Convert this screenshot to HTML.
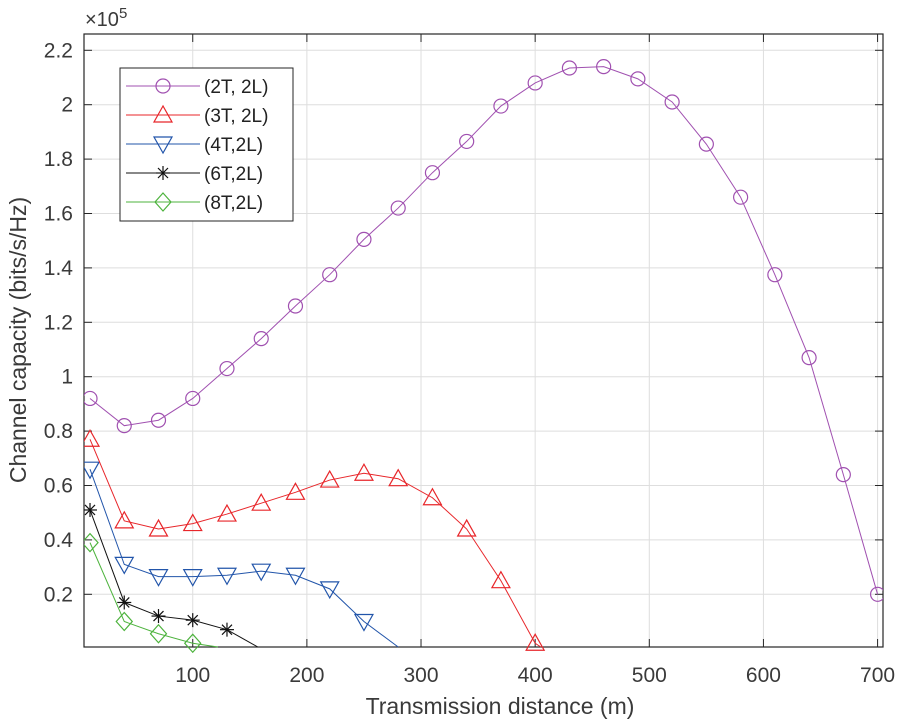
<!DOCTYPE html>
<html><head><meta charset="utf-8"><style>
html,body{margin:0;padding:0;background:#fff}
svg{display:block;font-family:"Liberation Sans",sans-serif}
</style></head><body>
<svg id="s" width="900" height="720" viewBox="0 0 900 720" xmlns="http://www.w3.org/2000/svg"></svg>
<script>
const s=document.getElementById('s');
const X0=84,X1=883,Y0=34,Y1=647;
const xm=v=>78.6+v*1.1414;
const ym=v=>648.7-v*272;
let h='';
// grid
for(let x=100;x<=700;x+=100){h+=`<line x1="${xm(x)}" y1="${Y0}" x2="${xm(x)}" y2="${Y1}" stroke="#dedede" stroke-width="1"/>`;}
for(let i=1;i<=11;i++){let y=ym(i*0.2);h+=`<line x1="${X0}" y1="${y}" x2="${X1}" y2="${y}" stroke="#dedede" stroke-width="1"/>`;}
// axes
h+=`<rect x="${X0}" y="${Y0}" width="${X1-X0}" height="${Y1-Y0}" fill="none" stroke="#262626" stroke-width="1.2"/>`;
for(let x=100;x<=700;x+=100){h+=`<line x1="${xm(x)}" y1="${Y1}" x2="${xm(x)}" y2="${Y1-8}" stroke="#262626"/><line x1="${xm(x)}" y1="${Y0}" x2="${xm(x)}" y2="${Y0+8}" stroke="#262626"/>`;
h+=`<text x="${xm(x)}" y="682" font-size="21" fill="#3a3a3a" text-anchor="middle">${x}</text>`;}
const yl=['0.2','0.4','0.6','0.8','1','1.2','1.4','1.6','1.8','2','2.2'];
for(let i=1;i<=11;i++){let y=ym(i*0.2);h+=`<line x1="${X0}" y1="${y}" x2="${X0+8}" y2="${y}" stroke="#262626"/><line x1="${X1}" y1="${y}" x2="${X1-8}" y2="${y}" stroke="#262626"/>`;
h+=`<text x="73" y="${y+7}" font-size="21" fill="#3a3a3a" text-anchor="end">${yl[i-1]}</text>`;}
h+=`<text x="85" y="26" font-size="20" fill="#3a3a3a">×10<tspan font-size="15" dy="-8">5</tspan></text>`;
h+=`<text x="500" y="714" font-size="23" fill="#3a3a3a" text-anchor="middle">Transmission  distance (m)</text>`;
h+=`<text transform="translate(26,340) rotate(-90)" font-size="23" fill="#3a3a3a" text-anchor="middle">Channel capacity (bits/s/Hz)</text>`;
// data
const xs=[];for(let x=10;x<=700;x+=30)xs.push(x);
const d2=[0.92,0.82,0.84,0.92,1.03,1.14,1.26,1.375,1.505,1.62,1.75,1.865,1.995,2.08,2.135,2.14,2.095,2.01,1.855,1.66,1.375,1.07,0.64,0.2];
const d3=[0.77,0.47,0.44,0.46,0.495,0.535,0.575,0.62,0.645,0.625,0.555,0.44,0.25,0.02];
const d4=[0.66,0.31,0.265,0.265,0.27,0.285,0.27,0.22,0.1];
const d6=[0.51,0.17,0.12,0.105,0.07];
const d8=[0.39,0.1,0.055,0.02];
function mk(t,cx,cy,c){
 if(t=='o')return `<circle cx="${cx}" cy="${cy}" r="7" fill="none" stroke="${c}" stroke-width="1.2"/>`;
 if(t=='^')return `<polygon points="${cx},${cy-9} ${cx-9},${cy+7} ${cx+9},${cy+7}" fill="none" stroke="${c}" stroke-width="1.2"/>`;
 if(t=='v')return `<polygon points="${cx},${cy+9} ${cx-9},${cy-7} ${cx+9},${cy-7}" fill="none" stroke="${c}" stroke-width="1.2"/>`;
 if(t=='*')return `<g stroke="${c}" stroke-width="1.2"><line x1="${cx-7}" y1="${cy}" x2="${cx+7}" y2="${cy}"/><line x1="${cx}" y1="${cy-7}" x2="${cx}" y2="${cy+7}"/><line x1="${cx-5}" y1="${cy-5}" x2="${cx+5}" y2="${cy+5}"/><line x1="${cx-5}" y1="${cy+5}" x2="${cx+5}" y2="${cy-5}"/></g>`;
 if(t=='d')return `<polygon points="${cx},${cy-9} ${cx+8},${cy} ${cx},${cy+9} ${cx-8},${cy}" fill="none" stroke="${c}" stroke-width="1.2"/>`;
}
function series(d,c,t,endx){
 let pts=d.map((v,i)=>[xm(xs[i]),ym(v)]);
 if(endx)pts.push([xm(endx),Y1]);
 let p=`<polyline points="${pts.map(q=>q.join(',')).join(' ')}" fill="none" stroke="${c}" stroke-width="1"/>`;
 d.forEach((v,i)=>p+=mk(t,xm(xs[i]),ym(v),c));
 return p;
}
h+=`<svg x="${X0}" y="${Y0}" width="${X1-X0}" height="${Y1-Y0+12}" viewBox="${X0} ${Y0} ${X1-X0} ${Y1-Y0+12}" overflow="hidden">`;
h+=series(d8,'#4db33d','d',122);
h+=series(d6,'#111','*',157);
h+=series(d4,'#2255aa','v',280);
h+=series(d3,'#e8262a','^',405);
h+=series(d2,'#a050b0','o');
h+=`</svg>`;
// legend
h+=`<rect x="120" y="68" width="173" height="153" fill="#fff" stroke="#262626" stroke-width="1"/>`;
const L=[['(2T, 2L)','#a050b0','o'],['(3T, 2L)','#e8262a','^'],['(4T,2L)','#2255aa','v'],['(6T,2L)','#111','*'],['(8T,2L)','#4db33d','d']];
L.forEach((l,i)=>{let y=86+i*29;h+=`<line x1="126" y1="${y}" x2="200" y2="${y}" stroke="${l[1]}" stroke-width="1"/>`+mk(l[2],163,y,l[1])+`<text x="204" y="${y+7}" font-size="19" fill="#222">${l[0]}</text>`;});
s.innerHTML=h;
</script>
</body></html>
